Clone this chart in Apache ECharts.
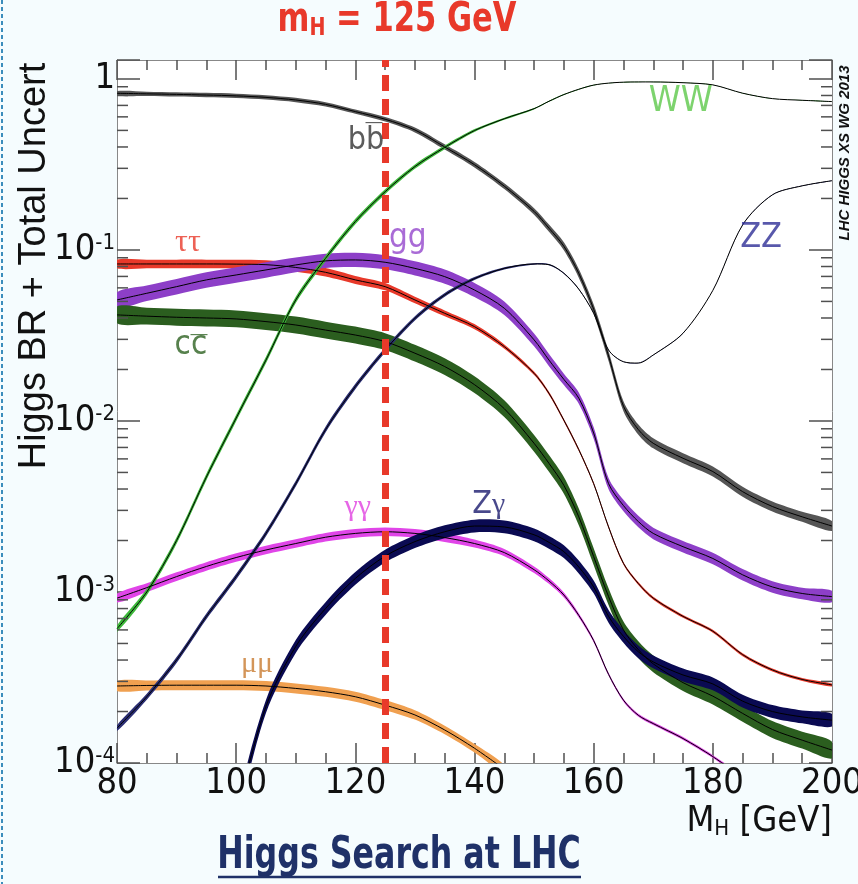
<!DOCTYPE html>
<html>
<head>
<meta charset="utf-8">
<script src="https://cdn.jsdelivr.net/npm/echarts/dist/echarts.min.js"></script>
<style>
html,body{margin:0;padding:0;background:#f5fcfe;}
#chart{width:858px;height:884px;}
</style>
</head>
<body>
<div id="chart"></div>
<script>
// ---------- data ----------
const mass = [80,85,90,95,100,105,110,115,120,125,130,135,140,145,150,152.5,155,157.5,160,162.5,165,167.5,170,175,180,185,190,195,200];

const brBB   = [0.824,0.818,0.812,0.805,0.796,0.78,0.753,0.71,0.644,0.581,0.503,0.40,0.315,0.236,0.168,0.134,0.105,0.073,0.045,0.024,0.0122,0.0089,0.0074,0.00605,0.00506,0.00386,0.00316,0.00275,0.00243];
const brWW   = [6.1e-4,1.0e-3,2.0e-3,4.7e-3,0.0104,0.0227,0.051,0.0893,0.1465,0.219,0.307,0.398,0.499,0.585,0.67,0.74,0.81,0.87,0.92,0.945,0.957,0.96,0.96,0.95,0.923,0.825,0.767,0.75,0.737];
const brZZ   = [1.6e-4,2.44e-4,4.0e-4,7.2e-4,1.23e-3,2.2e-3,4.3e-3,8.9e-3,0.0159,0.026,0.0398,0.0546,0.068,0.078,0.0828,0.082,0.073,0.059,0.0426,0.026,0.0222,0.0218,0.0243,0.0326,0.058,0.14,0.21,0.237,0.254];
const brTauTau = [0.0828,0.0828,0.0828,0.0828,0.0826,0.082,0.079,0.074,0.0668,0.061,0.051,0.0426,0.0356,0.0272,0.019,0.0145,0.0101,0.0068,0.0043,0.0024,0.00147,0.00112,9.2e-4,7.2e-4,5.9e-4,4.3e-4,3.5e-4,3.08e-4,2.86e-4];
const brGG   = [0.051,0.0558,0.061,0.0668,0.0714,0.0764,0.0817,0.0863,0.0874,0.0847,0.078,0.0698,0.0583,0.0456,0.0298,0.0227,0.0175,0.0136,0.0085,0.0043,0.0032,0.00258,0.0022,0.00184,0.00157,0.00126,0.00107,9.8e-4,9.4e-4];
const brCC   = [0.0417,0.041,0.0404,0.040,0.0395,0.0381,0.0364,0.034,0.0318,0.0291,0.0249,0.0208,0.0163,0.0118,0.0074,0.00565,0.0042,0.00275,0.00161,9.4e-4,6.0e-4,4.6e-4,3.8e-4,2.95e-4,2.46e-4,1.95e-4,1.57e-4,1.36e-4,1.19e-4];
const brGamGam = [9.2e-4,1.06e-3,1.23e-3,1.41e-3,1.59e-3,1.76e-3,1.92e-3,2.09e-3,2.2e-3,2.25e-3,2.2e-3,2.08e-3,1.92e-3,1.7e-3,1.35e-3,1.16e-3,9.6e-4,7.3e-4,5.2e-4,3.3e-4,2.33e-4,1.9e-4,1.7e-4,1.39e-4,1.09e-4,8.2e-5,null,null,null];
const brZGam = [null,null,null,null,5e-5,2.14e-4,4.8e-4,8.0e-4,1.2e-3,1.62e-3,1.97e-3,2.25e-3,2.43e-3,2.4e-3,2.16e-3,1.95e-3,1.72e-3,1.4e-3,1.07e-3,7.2e-4,5.5e-4,4.47e-4,3.9e-4,3.27e-4,2.9e-4,2.3e-4,2.0e-4,1.86e-4,1.78e-4];
const brMuMu = [2.82e-4,2.84e-4,2.85e-4,2.85e-4,2.85e-4,2.82e-4,2.73e-4,2.61e-4,2.44e-4,2.18e-4,1.91e-4,1.56e-4,1.22e-4,9.2e-5,null,null,null,null,null,null,null,null,null,null,null,null,null,null,null];

// total uncertainty (half band, percent)
const uncBB   = [3,3,3,3,3,3,3,3,3,3.2,3.4,3.6,3.8,4,4.5,5,5.5,6,6.5,7,7,7,7,7,7,7,7,7,7];
const uncWW   = [4.5,4.5,4.5,4.5,4.5,4.5,4.3,4,3.8,3.5,3,2.5,2,1.5,1,0.8,0.6,0.5,0.4,0.3,0.3,0.3,0.3,0.3,0.3,0.3,0.3,0.3,0.3];
const uncZZ   = [4,4,4,4,4,4,4,4,3.8,3.5,3,2.5,2,1.5,1,0.8,0.6,0.5,0.4,0.3,0.3,0.3,0.3,0.3,0.3,0.3,0.3,0.3,0.3];
const uncTauTau = [6,6,6,6,6,6,6,5.8,5.5,5,4.5,4,3.5,3,2.5,2.2,2,2,2,2,2,2,2,2,2,2,2,2,2];
const uncGG   = [11,11,11,11,11,11,10.5,10,10,10,10,10,10,9.5,9,8.5,8,8,8,8,8,8,8,8,8,8,8,8,8];
const uncCC   = [12,12,12,12,12,12,12,12,12,12,12,12,12,12,12,12,12,12,12,12,12,12,12,12,12,12,12,12,12];
const uncGamGam = [6,6,6,6,6,6,6,6,6,6,6,6,5.5,5,4.5,4,3.5,3,2.5,2,2,2,2,2,2,2,2,2,2];
const uncZGam = [9,9,9,9,9,9,9,9,9,9,9,9,9,9,9,9,9,9,9,9,9,9,9,9,9,9,9,9,9];
const uncMuMu = [7,7,7,7,7,7,7,7,7,7,6.5,6,6,6,6,6,6,6,6,6,6,6,6,6,6,6,6,6,6];

const xTicks = {min: 80, max: 200, step: 20, minorStep: 5};
const yRange = {min: 1e-4, max: 1.29};
const mHiggs = 125;

// ---------- fonts ----------
const NARROW = "'Liberation Sans Narrow','DejaVu Sans Condensed','Liberation Sans',Arial,sans-serif";
const SANS = "'Liberation Sans',Arial,sans-serif";
const SERIF = "'Liberation Serif','DejaVu Serif',serif";
const TICK = '#505050';

// ---------- layout of the plotting frame ----------
const GRID = {left: 117, right: 26, top: 60, bottom: 121};
const plotW = 858 - GRID.left - GRID.right, plotH = 884 - GRID.top - GRID.bottom;

// ---------- helpers ----------
function pairs(vals){
  const out = [];
  for (let i = 0; i < mass.length; i++) if (vals[i] != null) out.push([mass[i], vals[i]]);
  return out;
}
function band(name, vals, unc, color){
  return {
    name: name + ' band', type: 'custom', silent: true, clip: true,
    xAxisIndex: 0, yAxisIndex: 0,
    data: [[125, 0.01]],
    renderItem: function(params, api){
      const up = [], lo = [];
      for (let i = 0; i < mass.length; i++){
        if (vals[i] == null) continue;
        const f = 1 + unc[i] / 100;
        up.push(api.coord([mass[i], vals[i] * f]));
        lo.push(api.coord([mass[i], vals[i] / f]));
      }
      lo.reverse();
      return {type: 'polygon', shape: {points: up.concat(lo), smooth: 0.3}, style: {fill: color}};
    }
  };
}
function centre(name, vals){
  return {
    name: name, type: 'line', silent: true, data: pairs(vals),
    xAxisIndex: 0, yAxisIndex: 0,
    showSymbol: false, symbol: 'none', smooth: 0.3, clip: true,
    lineStyle: {color: '#000', width: 1}
  };
}
// minor ticks of the log axis (2..9 x 10^n), both sides, as thin rectangle symbols
const minorYTicks = [];
const W = 1.5;
for (let e = -4; e <= -1; e++){
  for (let k = 2; k <= 9; k++){
    const v = k * Math.pow(10, e);
    minorYTicks.push({value: [xTicks.min, v], symbolSize: [11, W], symbolOffset: [5.5, 0]});
    minorYTicks.push({value: [xTicks.max, v], symbolSize: [11, W], symbolOffset: [-5.5, 0]});
  }
}

function yLabel(v){
  const e = Math.round(Math.log10(v));
  if (Math.abs(v - Math.pow(10, e)) > 1e-6 * Math.pow(10, e)) return '';
  if (e === 0) return '{b|1}';
  return '{b|10}{s|-' + Math.abs(e) + '}';
}

const channels = [
  ['bb', brBB, uncBB, '#555555'],
  ['tautau', brTauTau, uncTauTau, '#e8392a'],
  ['gg', brGG, uncGG, '#8d3fc8'],
  ['cc', brCC, uncCC, '#2b5e1f'],
  ['gamgam', brGamGam, uncGamGam, '#e045e8'],
  ['mumu', brMuMu, uncMuMu, '#f0a050'],
  ['Zgam', brZGam, uncZGam, '#0a0a52'],
  ['ZZ', brZZ, uncZZ, '#2a2d72'],
  ['WW', brWW, uncWW, '#3db83a']
];

const series = [];
channels.forEach(function(c){
  series.push(band(c[0], c[1], c[2], c[3]));
  series.push(centre(c[0], c[1]));
});

series.push({
  name: 'minor y ticks', type: 'scatter', silent: true, clip: false, z: 9,
  symbol: 'rect', itemStyle: {color: TICK, opacity: 1},
  emphasis: {disabled: true},
  data: minorYTicks
});

// curve labels
const lab = function(x, y, text, color, size, family, offset, rich){
  return {value: [x, y], label: {show: true, position: 'inside', offset: offset || [0, 0], formatter: text, color: color, fontSize: size, fontFamily: family, rich: rich || {}}};
};
series.push({
  type: 'scatter', silent: true, symbolSize: 0, z: 8,
  data: [
    lab(121.8, 0.434, 'bb', '#333333', 32, NARROW),
    lab(121.8, 0.434, '\u2014', '#333333', 17, SANS, [8, -19]),
    lab(91.9, 0.11, '\u03c4\u03c4', '#e8392a', 32, SERIF),
    lab(128.8, 0.1175, 'gg', '#9346cc', 33, NARROW),
    lab(92.4, 0.0278, 'cc', '#2d6121', 33, NARROW),
    lab(92.4, 0.0278, '\u2014', '#2d6121', 17, SANS, [8, -11]),
    lab(174.6, 0.734, 'WW', '#5cc84a', 36, NARROW),
    lab(188.1, 0.1175, 'ZZ', '#2e2e96', 34, NARROW),
    lab(120.4, 3.14e-3, '\u03b3\u03b3', '#e040e0', 30, SERIF),
    lab(142.4, 3.23e-3, '{z|Z}{g|\u03b3}', '#1a1a6e', 32, NARROW, [0, 0],
        {z: {fontSize: 32, fontFamily: NARROW, color: '#1a1a6e'}, g: {fontSize: 30, fontFamily: SERIF, color: '#1a1a6e'}}),
    lab(103.5, 3.8e-4, '\u03bc\u03bc', '#c87a30', 30, SERIF)
  ]
});

// m_H = 125 GeV dashed marker
series.push({
  type: 'line', data: [], silent: true, z: 10,
  markLine: {
    silent: true, symbol: 'none', animation: false,
    label: {show: false},
    lineStyle: {color: '#e8392a', width: 7, type: [16, 8]},
    data: [{xAxis: mHiggs}]
  }
});

const axisCommonX = {
  type: 'value', min: xTicks.min, max: xTicks.max, interval: xTicks.step,
  splitLine: {show: false},
  axisLine: {show: true, lineStyle: {color: '#888', width: 1}},
  axisTick: {show: true, inside: true, length: 20, lineStyle: {color: TICK, width: W}},
  minorTick: {show: true, splitNumber: 4, length: 10, lineStyle: {color: TICK, width: W}},
  minorSplitLine: {show: false}
};
const axisCommonY = {
  type: 'log', logBase: 10, min: yRange.min, max: yRange.max,
  splitLine: {show: false},
  axisLine: {show: true, lineStyle: {color: '#888', width: 1}},
  axisTick: {show: true, inside: true, length: 23, lineStyle: {color: TICK, width: W}},
  minorTick: {show: false}
};

const option = {
  animation: false,
  backgroundColor: '#f5fcfe',
  grid: Object.assign({show: false, containLabel: false, outerBoundsMode: 'none'}, GRID),
  xAxis: [
    Object.assign({}, axisCommonX, {position: 'bottom',
      axisLabel: {show: true, color: '#111', fontSize: 36, fontFamily: NARROW, margin: 3, showMinLabel: true, showMaxLabel: true, hideOverlap: false}}),
    Object.assign({}, axisCommonX, {position: 'top', axisLabel: {show: false}})
  ],
  yAxis: [
    Object.assign({}, axisCommonY, {position: 'left',
      axisLabel: {show: true, margin: 2, formatter: yLabel, showMinLabel: true, showMaxLabel: true, hideOverlap: false,
        rich: {b: {fontSize: 36, fontFamily: NARROW, color: '#111'}, s: {fontSize: 22, fontFamily: NARROW, color: '#111', verticalAlign: 'top'}}}}),
    Object.assign({}, axisCommonY, {position: 'right', axisLabel: {show: false}})
  ],
  series: series,
  graphic: [
    {type: 'rect', silent: true, z: -10, shape: {x: GRID.left, y: GRID.top, width: plotW, height: plotH}, style: {fill: '#ffffff'}},
    {type: 'line', silent: true, shape: {x1: 2, y1: 0, x2: 2, y2: 884}, style: {stroke: '#3c8dbc', lineWidth: 2, lineDash: [4, 3]}},
    {type: 'text', silent: true, x: 397, y: 21, scaleX: 0.85, style: {
      text: '{a|m}{b|H}{a| = 125 GeV}', textAlign: 'center', textVerticalAlign: 'middle',
      rich: {a: {fontSize: 40, fontWeight: 'bold', fontFamily: NARROW, fill: '#e8392a'},
             b: {fontSize: 25, fontWeight: 'bold', fontFamily: NARROW, fill: '#e8392a', verticalAlign: 'bottom'}}}},
    {type: 'text', silent: true, x: 35, y: 266, rotation: Math.PI / 2, style: {
      text: 'Higgs BR + Total Uncert', textAlign: 'center', textVerticalAlign: 'middle',
      fontSize: 38, fontFamily: SANS, fill: '#111'}},
    {type: 'text', silent: true, x: 845, y: 153, rotation: Math.PI / 2, style: {
      text: 'LHC HIGGS XS WG 2013', textAlign: 'center', textVerticalAlign: 'middle',
      fontSize: 15, fontWeight: 'bold', fontStyle: 'italic', fontFamily: SANS, fill: '#111'}},
    {type: 'text', silent: true, x: 832, y: 822, style: {
      text: '{a|M}{b|H}{a| [GeV]}', textAlign: 'right', textVerticalAlign: 'middle',
      rich: {a: {fontSize: 36, fontFamily: NARROW, fill: '#111'},
             b: {fontSize: 22, fontFamily: NARROW, fill: '#111', verticalAlign: 'bottom'}}}},
    {type: 'text', silent: true, x: 399, y: 857, scaleX: 0.8, style: {
      text: 'Higgs Search at LHC', textAlign: 'center', textVerticalAlign: 'middle',
      fontSize: 44, fontWeight: 'bold', fontFamily: NARROW, fill: '#1f3168'}},
    {type: 'line', silent: true, shape: {x1: 218, y1: 877, x2: 581, y2: 877}, style: {stroke: '#1f3168', lineWidth: 2.5}}
  ]
};

const chart = echarts.init(document.getElementById('chart'), null, {renderer: 'canvas'});
chart.setOption(option);
</script>
</body>
</html>
